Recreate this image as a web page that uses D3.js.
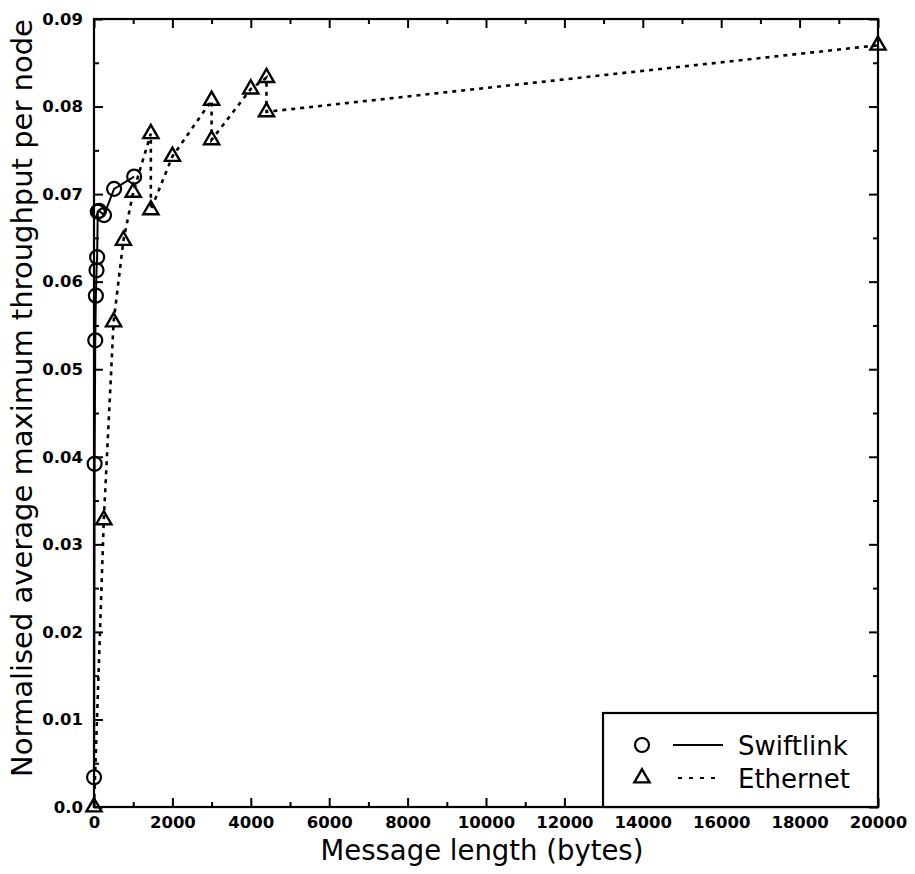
<!DOCTYPE html>
<html>
<head>
<meta charset="utf-8">
<script src="https://cdn.jsdelivr.net/npm/d3@7"></script>
<style>
  html, body { margin: 0; padding: 0; background: #fff; }
  svg { display: block; font-family: "DejaVu Sans", sans-serif; }
</style>
</head>
<body>
<svg id="chart" width="915" height="874"></svg>
<script>
// ---- data ----
const swiftX = [1, 16, 32, 48, 64, 80, 96, 128, 256, 512, 1024];
const swiftY = [0.0034, 0.0392, 0.0533, 0.0584, 0.0613, 0.0628, 0.0680, 0.0681, 0.0676, 0.0706, 0.0720];

const etherX = [0, 250, 500, 750, 1000, 1450, 1450, 2000, 3000, 3000, 4000, 4400, 4400, 20000];
const etherY = [0.0, 0.0328, 0.0554, 0.0647, 0.0702, 0.0769, 0.0682, 0.0743, 0.0807, 0.0762, 0.0820, 0.0833, 0.0794, 0.0870];

const xTicks = [0, 2000, 4000, 6000, 8000, 10000, 12000, 14000, 16000, 18000, 20000];
const xTickLabels = ["0", "2000", "4000", "6000", "8000", "10000", "12000", "14000", "16000", "18000", "20000"];
const xMinorTicks = [1000, 3000, 5000, 7000, 9000, 11000, 13000, 15000, 17000, 19000];
const yTicks = [0, 0.01, 0.02, 0.03, 0.04, 0.05, 0.06, 0.07, 0.08, 0.09];
const yTickLabels = ["0.0", "0.01", "0.02", "0.03", "0.04", "0.05", "0.06", "0.07", "0.08", "0.09"];
const yMinorTicks = [0.005, 0.015, 0.025, 0.035, 0.045, 0.055, 0.065, 0.075, 0.085];

const seriesNames = ["Swiftlink", "Ethernet"];
const xTitle = "Message length (bytes)";
const yTitle = "Normalised average maximum throughput per node";

// ---- layout ----
const L = 94, R = 878, T = 19, B = 807;
const svg = d3.select("#chart");
const x = d3.scaleLinear().domain([0, 20000]).range([L, R]);
const y = d3.scaleLinear().domain([0, 0.09]).range([B, T]);

const MAJ = 9, MIN = 5;

function styleAxis(g) {
  g.select(".domain").remove();
  g.selectAll(".tick line").attr("stroke", "#000").attr("stroke-width", 2);
  g.selectAll(".tick text").attr("fill", "#000").attr("font-size", 16.5).attr("font-weight", "bold")
    .attr("font-family", "DejaVu Sans, sans-serif");
}

// bottom
svg.append("g").attr("transform", `translate(0,${B})`)
  .call(d3.axisBottom(x).tickValues(xTicks).tickSize(-MAJ).tickPadding(9)
    .tickFormat((d, i) => xTickLabels[i]))
  .call(styleAxis);
svg.append("g").attr("transform", `translate(0,${B})`)
  .call(d3.axisBottom(x).tickValues(xMinorTicks).tickSize(-MIN).tickFormat(""))
  .call(styleAxis);
// top
svg.append("g").attr("transform", `translate(0,${T})`)
  .call(d3.axisTop(x).tickValues(xTicks).tickSize(-MAJ).tickFormat(""))
  .call(styleAxis);
svg.append("g").attr("transform", `translate(0,${T})`)
  .call(d3.axisTop(x).tickValues(xMinorTicks).tickSize(-MIN).tickFormat(""))
  .call(styleAxis);
// left
svg.append("g").attr("transform", `translate(${L},0)`)
  .call(d3.axisLeft(y).tickValues(yTicks).tickSize(-MAJ).tickPadding(11)
    .tickFormat((d, i) => yTickLabels[i]))
  .call(styleAxis);
svg.append("g").attr("transform", `translate(${L},0)`)
  .call(d3.axisLeft(y).tickValues(yMinorTicks).tickSize(-MIN).tickFormat(""))
  .call(styleAxis);
// right
svg.append("g").attr("transform", `translate(${R},0)`)
  .call(d3.axisRight(y).tickValues(yTicks).tickSize(-MAJ).tickFormat(""))
  .call(styleAxis);
svg.append("g").attr("transform", `translate(${R},0)`)
  .call(d3.axisRight(y).tickValues(yMinorTicks).tickSize(-MIN).tickFormat(""))
  .call(styleAxis);

// frame
svg.append("rect").attr("x", L).attr("y", T).attr("width", R - L).attr("height", B - T)
  .attr("fill", "none").attr("stroke", "#000").attr("stroke-width", 2.2);

// titles
svg.append("text").attr("x", (L + R) / 2 - 4).attr("y", 860)
  .attr("text-anchor", "middle").attr("font-size", 27.5).attr("fill", "#000").text(xTitle);
svg.append("text").attr("transform", "translate(32,398) rotate(-90)")
  .attr("text-anchor", "middle").attr("font-size", 29).attr("fill", "#000").text(yTitle);

// series
const swift = swiftX.map((d, i) => [d, swiftY[i]]);
const ether = etherX.map((d, i) => [d, etherY[i]]);
const line = d3.line().x(d => x(d[0])).y(d => y(d[1]));

svg.append("path").attr("d", line(ether)).attr("fill", "none").attr("stroke", "#000")
  .attr("stroke-width", 2.6).attr("stroke-dasharray", "4,5");
svg.append("path").attr("d", line(swift)).attr("fill", "none").attr("stroke", "#000")
  .attr("stroke-width", 2);

const tri = d3.symbol().type(d3.symbolTriangle).size(100);
svg.append("g").selectAll("path").data(ether).join("path")
  .attr("d", tri).attr("transform", d => `translate(${x(d[0])},${y(d[1])})`)
  .attr("fill", "none").attr("stroke", "#000").attr("stroke-width", 2.4);
svg.append("g").selectAll("circle").data(swift).join("circle")
  .attr("cx", d => x(d[0])).attr("cy", d => y(d[1])).attr("r", 7)
  .attr("fill", "none").attr("stroke", "#000").attr("stroke-width", 2.2);

// legend
const lg = svg.append("g");
lg.append("rect").attr("x", 603).attr("y", 713).attr("width", R - 603).attr("height", B - 713)
  .attr("fill", "#fff").attr("stroke", "#000").attr("stroke-width", 2.2);
lg.append("circle").attr("cx", 642).attr("cy", 745).attr("r", 7)
  .attr("fill", "none").attr("stroke", "#000").attr("stroke-width", 2.2);
lg.append("line").attr("x1", 673).attr("x2", 723).attr("y1", 745).attr("y2", 745)
  .attr("stroke", "#000").attr("stroke-width", 2);
lg.append("text").attr("x", 738).attr("y", 755).attr("font-size", 26).attr("fill", "#000").text(seriesNames[0]);
lg.append("path").attr("d", tri).attr("transform", "translate(642,778)")
  .attr("fill", "none").attr("stroke", "#000").attr("stroke-width", 2.4);
lg.append("line").attr("x1", 678).attr("x2", 720).attr("y1", 778).attr("y2", 778)
  .attr("stroke", "#000").attr("stroke-width", 1.8).attr("stroke-dasharray", "4,7");
lg.append("text").attr("x", 738).attr("y", 788).attr("font-size", 26).attr("fill", "#000").text(seriesNames[1]);
// redraw frame edge over legend
svg.append("line").attr("x1", 603).attr("x2", R).attr("y1", B).attr("y2", B).attr("stroke", "#000").attr("stroke-width", 2.2);
</script>
</body>
</html>
